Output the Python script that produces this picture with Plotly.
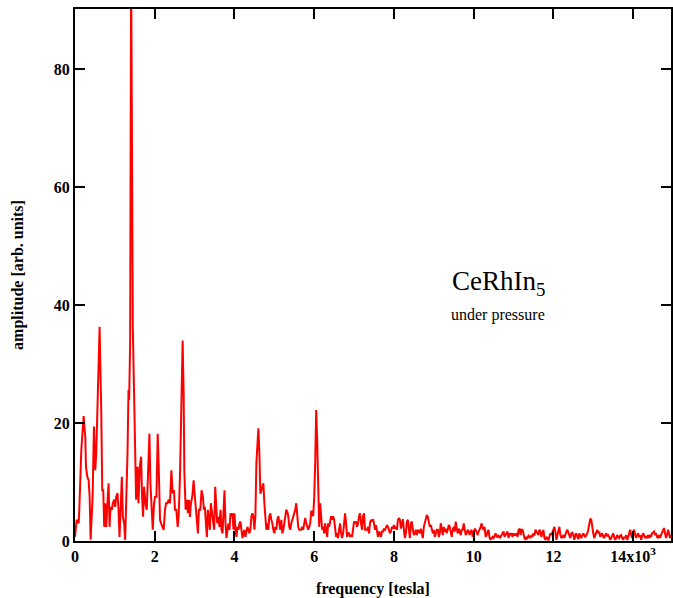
import plotly.graph_objects as go

# ---- data: frequency [T] and FFT amplitude ----
freq_a = [0, 42, 92, 108, 158, 200, 217, 242, 258, 275, 308, 342, 367, 392, 442, 475, 508, 533, 567, 592,
          617, 658, 683, 708, 733, 758, 783, 808, 842, 867, 892, 925, 950, 983, 1008, 1033, 1067, 1092, 1117, 1150,
          1175, 1200, 1233, 1258, 1283, 1317, 1342, 1358, 1383, 1408, 1450, 1475, 1508, 1533, 1567, 1592, 1625, 1658, 1683, 1708,
          1733, 1767, 1800, 1833, 1867, 1892, 1925, 1950, 1983, 2008, 2042, 2075, 2100, 2133, 2158, 2192, 2225, 2258, 2283, 2317,
          2350, 2383, 2417, 2450, 2483, 2508, 2542, 2575, 2600, 2633, 2658, 2683, 2700, 2725, 2742, 2775, 2808, 2833, 2858, 2883,
          2908, 2942, 2975, 3000, 3033, 3058, 3083, 3108, 3142, 3175, 3208, 3233, 3258, 3283, 3308, 3333, 3358, 3383, 3408, 3442,
          3467, 3492, 3517, 3542, 3567, 3592, 3625]
amp_a = [0.7, 3.6, 3.0, 5.3, 15.4, 21.1, 21.2, 18.8, 17.7, 12.6, 10.9, 10.3, 7.5, 0.2, 7.5, 19.4, 12.0, 14.8, 22.2, 27.9,
         36.3, 22.2, 8.6, 8.6, 2.4, 6.4, 2.4, 5.8, 9.8, 2.4, 5.8, 5.3, 6.4, 7.0, 5.8, 7.5, 8.1, 5.3, 0.7, 6.4,
         10.9, 4.1, 3.0, 0.2, 5.3, 14.8, 25.6, 23.9, 33.5, 98.0, 36.3, 27.9, 16.6, 7.0, 12.6, 6.4, 12.6, 14.3, 7.5, 4.1,
         9.2, 6.4, 5.3, 10.9, 18.2, 9.8, 5.3, 1.9, 6.4, 7.5, 7.5, 18.2, 12.6, 3.6, 3.0, 2.4, 1.9, 5.3, 6.4, 6.4,
         7.0, 6.4, 12.0, 8.1, 8.6, 5.3, 5.3, 2.4, 4.1, 10.9, 22.2, 33.5, 34.0, 25.0, 12.0, 5.3, 7.0, 4.7, 7.0, 4.1,
         6.4, 7.5, 10.3, 8.1, 5.3, 3.0, 1.3, 5.3, 5.3, 8.6, 7.5, 5.3, 5.8, 3.0, 0.7, 5.3, 3.0, 1.9, 6.4, 4.1,
         2.4, 1.9, 9.2, 5.3, 3.0, 4.1, 2.4]

freq_b = [3650, 3675, 3700, 3725, 3750, 3775, 3800, 3825, 3850, 3875, 3900, 3925, 3950, 3975, 4000, 4025, 4050, 4075, 4100, 4125,
          4150, 4175, 4200, 4225, 4250, 4275, 4300, 4325, 4350, 4375, 4400, 4425, 4450, 4475, 4500, 4525, 4550, 4575, 4600, 4625,
          4650, 4675, 4700, 4725, 4750, 4775, 4800, 4825, 4850, 4875, 4900, 4925, 4950, 4975, 5000, 5025, 5050, 5075, 5100, 5125,
          5150, 5175, 5200, 5225, 5250, 5275, 5300, 5325, 5350, 5375, 5400, 5425, 5450, 5475, 5500, 5525, 5550, 5575, 5600, 5625,
          5650, 5675, 5700, 5725, 5750, 5775, 5800, 5825, 5850, 5875, 5900, 5925, 5950, 5975, 6000, 6025, 6050, 6075, 6100, 6125,
          6150, 6175, 6200, 6225, 6250, 6275, 6300, 6325, 6350, 6375, 6400, 6425, 6450, 6475, 6500, 6525, 6550, 6575, 6600, 6625,
          6650, 6675, 6700, 6725, 6750, 6775, 6800, 6825, 6850, 6875, 6900, 6925, 6950, 6975, 7000, 7025, 7050, 7075, 7100, 7125,
          7150, 7175, 7200, 7225, 7250, 7275, 7300]
amp_b = [5.3, 1.9, 1.3, 4.2, 8.6, 3.0, 0.5, 1.9, 3.0, 1.9, 4.7, 4.2, 4.7, 1.9, 4.7, 1.9, 0.7, 2.4, 1.9, 3.0,
         3.3, 1.9, 0.5, 1.3, 1.9, 0.7, 1.9, 2.4, 1.9, 1.3, 1.9, 4.2, 4.7, 4.2, 1.9, 4.2, 13.2, 17.7, 19.1, 15.0,
         8.0, 8.6, 9.2, 9.8, 6.4, 4.2, 1.9, 3.0, 1.9, 4.2, 4.7, 3.6, 3.0, 1.9, 1.3, 2.4, 1.9, 3.6, 4.2, 3.0,
         1.9, 3.6, 1.3, 1.9, 3.0, 4.2, 5.3, 5.0, 4.2, 2.4, 1.9, 3.0, 3.6, 4.2, 4.7, 5.3, 6.4, 4.2, 2.4, 1.9,
         1.9, 1.9, 2.4, 1.9, 3.0, 3.9, 3.0, 2.4, 1.9, 2.4, 3.0, 5.0, 5.0, 4.2, 7.4, 13.2, 22.2, 17.0, 6.4, 2.4,
         6.4, 3.6, 1.9, 2.4, 1.3, 3.0, 1.9, 0.7, 3.0, 2.4, 3.3, 4.2, 3.6, 4.2, 3.6, 1.9, 0.7, 1.3, 0.5, 1.9,
         3.0, 1.3, 0.5, 1.3, 3.0, 4.7, 3.0, 0.7, 1.3, 1.3, 0.7, 1.0, 0.7, 1.9, 3.3, 3.0, 3.3, 2.4, 3.0, 4.2,
         4.7, 3.0, 1.9, 4.2, 4.7, 1.9, 1.9]

freq_c = [7325, 7350, 7375, 7400, 7425, 7450, 7475, 7500, 7525, 7550, 7575, 7600, 7625, 7650, 7675, 7700, 7725, 7750, 7775, 7800,
          7825, 7850, 7875, 7900, 7925, 7950, 7975, 8000, 8025, 8050, 8075, 8100, 8125, 8150, 8175, 8200, 8225, 8250, 8275, 8300,
          8325, 8350, 8375, 8400, 8425, 8450, 8475, 8500, 8525, 8550, 8575, 8600, 8625, 8650, 8675, 8700, 8725, 8750, 8775, 8800,
          8825, 8850, 8875, 8900, 8925, 8950, 8975, 9000, 9025, 9050, 9075, 9100, 9125, 9150, 9175, 9200, 9225, 9250, 9275, 9300,
          9325, 9350, 9375, 9400, 9425, 9450, 9475, 9500, 9525, 9550, 9575, 9600, 9625, 9650, 9675, 9700, 9725, 9750, 9775, 9800,
          9825, 9850, 9875, 9900, 9925, 9950, 9975, 10000, 10025, 10050, 10075, 10100, 10125, 10150, 10175, 10200, 10225, 10250, 10275, 10300,
          10325, 10350, 10375, 10400, 10425, 10450, 10475, 10500, 10525, 10550, 10575, 10600, 10625, 10650, 10675, 10700, 10725, 10750, 10775, 10800,
          10825, 10850, 10875, 10900, 10925, 10950, 10975, 11000, 11025]
amp_c = [1.9, 2.4, 1.3, 3.0, 3.6, 3.3, 3.7, 3.0, 1.9, 2.7, 1.6, 0.7, 1.6, 1.3, 0.7, 1.6, 1.6, 2.1, 1.9, 2.4,
         2.7, 2.4, 1.9, 1.3, 1.6, 2.4, 2.1, 2.7, 2.1, 2.4, 1.9, 3.6, 3.8, 3.6, 2.1, 3.0, 3.7, 1.9, 0.5, 1.3,
         3.3, 3.6, 1.9, 0.5, 3.0, 3.3, 1.9, 1.0, 1.3, 1.9, 1.0, 1.9, 1.7, 1.3, 2.1, 1.3, 0.5, 2.4, 3.0, 3.6,
         4.4, 4.1, 3.0, 2.4, 2.7, 1.9, 1.3, 1.9, 0.7, 1.3, 1.9, 1.9, 0.7, 1.3, 3.0, 2.1, 1.0, 2.4, 1.6, 2.1,
         1.3, 1.9, 2.7, 2.4, 1.6, 0.7, 1.9, 2.4, 1.6, 3.3, 2.1, 1.3, 2.1, 1.6, 1.0, 1.9, 1.9, 3.0, 2.1, 1.0,
         1.3, 1.9, 1.6, 1.0, 1.6, 1.9, 0.7, 1.3, 2.1, 1.9, 1.3, 1.0, 1.6, 1.9, 2.4, 3.0, 2.1, 1.9, 2.4, 0.7,
         1.0, 1.6, 1.9, 0.5, 0.2, 0.5, 0.7, 0.5, 1.0, 1.3, 0.7, 0.7, 1.0, 0.5, 0.7, 1.0, 1.3, 1.6, 0.7, 1.0,
         1.3, 1.6, 0.5, 1.3, 1.0, 1.3, 0.7, 1.3, 1.0]

freq_d = [11050, 11075, 11100, 11125, 11150, 11175, 11200, 11225, 11250, 11275, 11300, 11325, 11350, 11375, 11400, 11425, 11450, 11475, 11500, 11525,
          11550, 11575, 11600, 11625, 11650, 11675, 11700, 11725, 11750, 11775, 11800, 11825, 11850, 11875, 11900, 11925, 11950, 11975, 12000, 12025,
          12050, 12075, 12100, 12125, 12150, 12175, 12200, 12225, 12250, 12275, 12300, 12325, 12350, 12375, 12400, 12425, 12450, 12475, 12500, 12525,
          12550, 12575, 12600, 12625, 12650, 12675, 12700, 12725, 12750, 12775, 12800, 12825, 12850, 12875, 12900, 12925, 12950, 12975, 13000, 13025,
          13050, 13075, 13100, 13125, 13150, 13175, 13200, 13225, 13250, 13275, 13300, 13325, 13350, 13375, 13400, 13425, 13450, 13475, 13500, 13525,
          13550, 13575, 13600, 13625, 13650, 13675, 13700, 13725, 13750, 13775, 13800, 13825, 13850, 13875, 13900, 13925, 13950, 13975, 14000, 14025,
          14050, 14075, 14100, 14125, 14150, 14175, 14200, 14225, 14250, 14275, 14300, 14325, 14350, 14375, 14400, 14425, 14450, 14475, 14500, 14525,
          14550, 14575, 14600, 14625, 14650, 14675, 14700, 14725, 14750, 14775, 14800, 14825, 14850, 14875, 14900, 14925, 14950]
amp_d = [1.0, 1.3, 0.7, 1.9, 2.0, 1.0, 1.9, 1.9, 1.0, 0.5, 0.2, 0.7, 0.5, 0.9, 0.7, 0.5, 1.0, 0.7, 1.3, 0.9,
         1.9, 1.6, 1.3, 1.0, 1.9, 1.6, 0.7, 1.3, 1.9, 0.5, 0.2, 0.7, 0.5, 0.1, 1.0, 1.3, 1.0, 1.6, 2.2, 2.4,
         1.6, 0.2, 1.0, 1.9, 2.4, 1.0, 0.5, 0.7, 1.0, 0.5, 1.3, 1.6, 1.9, 1.4, 0.7, 0.5, 1.3, 1.4, 1.0, 0.2,
         1.0, 1.3, 0.7, 0.3, 1.3, 1.0, 0.5, 0.9, 1.3, 1.0, 0.6, 1.0, 1.3, 1.9, 2.7, 3.8, 3.6, 1.9, 1.3, 0.5,
         1.0, 1.3, 1.9, 1.3, 1.6, 0.7, 1.0, 1.3, 0.7, 0.5, 1.0, 1.3, 0.9, 1.0, 0.7, 0.2, 0.5, 1.0, 1.3, 0.7,
         0.2, 0.5, 1.0, 0.7, 0.5, 0.9, 1.0, 0.5, 0.2, 0.7, 0.5, 1.0, 0.2, 0.7, 1.6, 1.9, 1.0, 0.5, 1.6, 1.9,
         1.0, 0.5, 1.0, 1.3, 0.7, 1.0, 0.2, 0.7, 1.3, 1.0, 0.5, 0.7, 0.5, 1.0, 0.5, 0.9, 0.7, 1.3, 1.4, 1.6,
         1.0, 1.3, 0.7, 0.5, 1.0, 0.5, 1.0, 1.4, 1.9, 2.2, 1.3, 0.5, 1.0, 1.9, 1.3, 0.5, 1.0]

x_tickvals = [0, 2000, 4000, 6000, 8000, 10000, 12000, 14000]
x_ticktext = ["0", "2", "4", "6", "8", "10", "12", "14x10<sup>3</sup>"]
y_tickvals = [0, 20, 40, 60, 80]

freq = freq_a + freq_b + freq_c + freq_d
amp = amp_a + amp_b + amp_c + amp_d

FONT = "Liberation Serif"

fig = go.Figure()
fig.add_trace(go.Scatter(x=freq, y=amp, mode="lines",
                         line=dict(color="#ff0000", width=2), showlegend=False))

axis_common = dict(showline=True, linecolor="black", linewidth=2,
                   ticks="inside", ticklen=10, tickwidth=2, tickcolor="black",
                   mirror="ticks", showgrid=False, zeroline=False,
                   tickfont=dict(family=FONT, size=16, color="black", weight="bold"))

fig.update_layout(
    width=673, height=598,
    margin=dict(l=75, r=0, t=9, b=57),
    paper_bgcolor="white", plot_bgcolor="white",
    xaxis=dict(range=[0, 14950], tickvals=x_tickvals, ticktext=x_ticktext,
               title=dict(text="<b>frequency [tesla]</b>", standoff=20,
                          font=dict(family=FONT, size=16, color="black")),
               **axis_common),
    yaxis=dict(range=[0, 90.2], tickvals=y_tickvals,
               title=dict(text="<b>amplitude [arb. units]</b>", standoff=26,
                          font=dict(family=FONT, size=16, color="black")),
               **axis_common),
    annotations=[
        dict(x=10625, y=43.7, xref="x", yref="y", text="CeRhIn<sub>5</sub>",
             showarrow=False, font=dict(family=FONT, size=27, color="black")),
        dict(x=10600, y=38.4, xref="x", yref="y", text="under pressure",
             showarrow=False, font=dict(family=FONT, size=16, color="black")),
    ],
)

fig.write_html("out.html")
